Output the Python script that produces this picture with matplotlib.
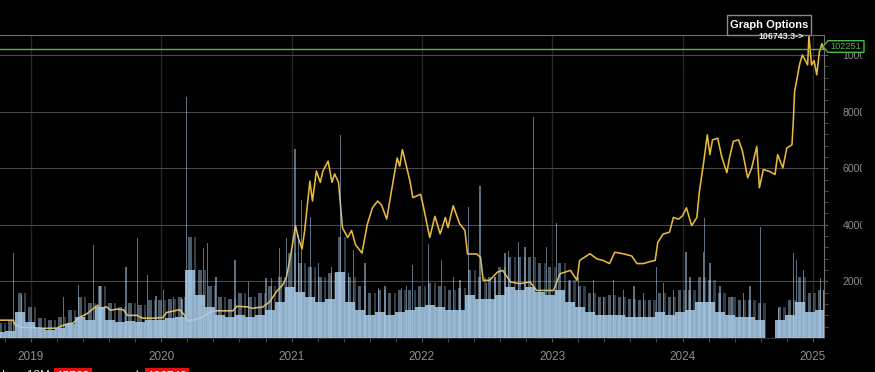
import matplotlib.pyplot as plt
import numpy as np
from matplotlib.patches import Polygon, Rectangle

# closing price (decimal years, thousands of USD)
price_t = [2018.76, 2018.86, 2018.88, 2018.92, 2018.99, 2019.11, 2019.20, 2019.22, 2019.28, 2019.32,
           2019.38, 2019.43, 2019.51, 2019.53, 2019.58, 2019.61, 2019.66, 2019.71, 2019.74, 2019.81,
           2019.86, 2019.94, 2020.01, 2020.04, 2020.09, 2020.14, 2020.18, 2020.20, 2020.24, 2020.30,
           2020.35, 2020.40, 2020.55, 2020.58, 2020.66, 2020.70, 2020.78, 2020.83, 2020.89, 2020.93,
           2020.96, 2020.99, 2021.03, 2021.05, 2021.08, 2021.10, 2021.14, 2021.16, 2021.19, 2021.22,
           2021.24, 2021.28, 2021.31, 2021.33, 2021.36, 2021.39, 2021.43, 2021.46, 2021.49, 2021.54,
           2021.58, 2021.62, 2021.66, 2021.69, 2021.73, 2021.77, 2021.81, 2021.83, 2021.85, 2021.89,
           2021.91, 2021.93, 2021.99, 2022.01, 2022.06, 2022.10, 2022.14, 2022.18, 2022.20, 2022.24,
           2022.29, 2022.33, 2022.35, 2022.42, 2022.45, 2022.47, 2022.52, 2022.58, 2022.62, 2022.68,
           2022.75, 2022.83, 2022.88, 2023.01, 2023.06, 2023.14, 2023.19, 2023.21, 2023.29, 2023.34,
           2023.39, 2023.44, 2023.48, 2023.54, 2023.61, 2023.65, 2023.70, 2023.75, 2023.79, 2023.81,
           2023.85, 2023.90, 2023.93, 2023.97, 2024.00, 2024.03, 2024.07, 2024.11, 2024.13, 2024.16,
           2024.19, 2024.21, 2024.23, 2024.27, 2024.30, 2024.34, 2024.36, 2024.39, 2024.43, 2024.46,
           2024.50, 2024.53, 2024.57, 2024.59, 2024.62, 2024.66, 2024.71, 2024.73, 2024.77, 2024.80,
           2024.84, 2024.85, 2024.86, 2024.90, 2024.92, 2024.96, 2024.97, 2024.99, 2025.01, 2025.03,
           2025.05, 2025.07, 2025.08]
price_k = [6.3, 6.3, 4.6, 3.8, 3.7, 3.4, 3.5, 4.0, 5.0, 5.2,
           7.5, 8.6, 11.6, 10.4, 11.0, 9.8, 10.2, 10.0, 8.0, 8.0,
           7.0, 7.0, 7.2, 9.0, 9.5, 10.0, 8.0, 6.0, 6.3, 7.0,
           8.4, 9.6, 9.6, 11.2, 11.0, 10.5, 11.0, 12.7, 16.8, 18.6,
           21.5, 28.5, 39.7, 35.5, 31.5, 37.9, 55.4, 48.4, 59.0, 55.0,
           59.0, 62.5, 55.0, 58.0, 55.0, 39.0, 35.5, 38.0, 33.0, 30.0,
           40.0, 46.0, 48.4, 47.0, 42.0, 53.0, 63.6, 60.7, 66.6, 59.0,
           55.0, 49.6, 50.8, 46.7, 35.5, 43.0, 36.8, 42.6, 39.0, 46.7,
           40.3, 38.0, 29.7, 29.7, 28.5, 20.4, 20.4, 23.3, 23.9, 19.8,
           19.2, 19.8, 16.8, 16.8, 22.7, 23.9, 20.4, 27.4, 29.8, 28.0,
           27.4, 26.3, 30.3, 29.8, 29.0, 26.3, 26.3, 27.0, 27.4, 33.8,
           36.7, 37.4, 42.6, 42.0, 43.2, 46.0, 39.7, 42.6, 52.0, 61.3,
           71.8, 64.8, 70.0, 70.6, 64.2, 58.4, 63.6, 69.5, 70.0, 66.0,
           56.6, 60.0, 67.7, 53.1, 59.5, 59.0, 57.8, 64.8, 60.1, 67.1,
           68.3, 76.5, 87.0, 97.0, 100.0, 96.5, 106.7, 96.5, 98.0, 93.0,
           101.0, 104.0, 102.3]

# volume (arbitrary units, 100 = top of chart), 4-weekly buckets
vol_start = 2018.762
vol_step = 0.0767
vol_base = [2.0, 2.4, 8.6, 5.3, 3.2, 2.8, 3.2, 4.5, 6.9, 6.1,
            10.2, 6.1, 5.3, 5.7, 5.3, 6.1, 6.1, 6.5, 6.9, 22.5,
            14.3, 10.2, 7.7, 6.9, 7.7, 6.9, 7.7, 9.4, 11.9, 16.8,
            15.2, 13.5, 11.9, 12.8, 21.8, 11.9, 9.4, 7.7, 8.6, 7.7,
            8.6, 9.4, 10.2, 11.0, 10.2, 9.4, 9.4, 14.3, 12.8, 12.8,
            14.3, 16.8, 16.0, 16.8, 15.2, 14.3, 16.0, 11.9, 10.2, 8.6,
            7.7, 7.7, 7.7, 6.9, 6.9, 6.9, 8.6, 7.7, 8.6, 9.4,
            11.9, 11.9, 8.6, 7.7, 6.9, 6.9, 6.1, 0.0, 6.1, 7.7,
            11.9, 8.6, 9.4]
vol_upper = [4.8, 6.0, 14.7, 10.3, 6.5, 6.0, 7.0, 9.2, 13.6, 11.4,
             17.0, 11.4, 10.3, 11.4, 10.9, 12.5, 12.5, 13.0, 13.6, 33.4,
             22.4, 17.0, 13.6, 13.0, 14.7, 13.6, 14.7, 17.0, 20.2, 28.0,
             24.6, 23.5, 20.2, 21.3, 33.4, 20.2, 17.0, 14.7, 15.8, 14.7,
             15.8, 15.8, 17.0, 18.0, 17.0, 15.8, 16.4, 22.4, 20.2, 20.2,
             23.5, 26.8, 26.8, 26.8, 24.6, 23.5, 24.6, 19.0, 17.0, 14.7,
             13.6, 14.2, 13.6, 13.0, 12.5, 12.5, 14.7, 13.6, 15.8, 15.8,
             20.2, 19.0, 14.7, 13.6, 12.5, 12.5, 11.4, 0.0, 10.3, 12.5,
             20.2, 14.7, 15.8]

# single-day volume spikes
spike_t = [2018.864, 2018.929, 2019.248, 2019.363, 2019.478, 2019.530, 2019.729, 2019.816, 2019.892, 2019.959,
           2020.015, 2020.092, 2020.159, 2020.195, 2020.322, 2020.353, 2020.420, 2020.566, 2020.668, 2020.804,
           2020.847, 2020.906, 2020.962, 2021.026, 2021.051, 2021.078, 2021.147, 2021.205, 2021.308, 2021.377,
           2021.435, 2021.474, 2021.563, 2021.665, 2021.717, 2021.845, 2021.883, 2021.928, 2022.049, 2022.152,
           2022.241, 2022.292, 2022.356, 2022.446, 2022.497, 2022.561, 2022.638, 2022.663, 2022.740, 2022.791,
           2022.855, 2022.958, 2023.034, 2023.131, 2023.200, 2023.315, 2023.392, 2023.469, 2023.546, 2023.628,
           2023.699, 2023.802, 2023.853, 2023.929, 2024.027, 2024.058, 2024.160, 2024.167, 2024.211, 2024.288,
           2024.378, 2024.467, 2024.518, 2024.600, 2024.735, 2024.850, 2024.876, 2024.927, 2025.061, 2025.081]
spike_v = [28.0, 14.3, 13.6, 17.5, 30.7, 17.0, 23.5, 33.0, 20.8, 14.0,
           15.9, 13.6, 13.0, 79.6, 29.6, 31.2, 20.0, 25.7, 18.6, 19.7,
           19.7, 29.6, 33.0, 62.5, 34.0, 45.5, 40.0, 24.6, 23.5, 67.0,
           21.3, 29.0, 24.6, 16.5, 17.0, 16.4, 17.0, 24.0, 31.0, 25.7,
           20.2, 19.0, 43.3, 50.0, 18.0, 20.2, 28.0, 28.6, 31.8, 30.0,
           73.0, 30.0, 37.8, 18.6, 20.2, 19.0, 13.6, 19.0, 15.8, 17.0,
           14.7, 23.5, 18.0, 15.8, 28.5, 20.2, 28.5, 39.5, 24.6, 17.0,
           13.6, 14.7, 17.0, 36.7, 9.8, 28.0, 25.7, 22.4, 19.7, 15.8]

year_ticks = [2019, 2020, 2021, 2022, 2023, 2024, 2025]
price_ticks = [20000, 40000, 60000, 80000, 100000]
last_price = 102251
max_price = 106743.3
footer_low = "15760"
footer_high = "106743"

W, H = 875, 372


def px(x, y):
    # pixel position (from top-left) -> figure fraction
    return (x / W, 1 - y / H)


plt.rcParams['font.family'] = ['Liberation Sans', 'DejaVu Sans']

fig = plt.figure(figsize=(W / 100, H / 100), dpi=100, facecolor='black')
ax = fig.add_axes([0, 34 / H, 824.3 / W, 303 / H])
ax.set_facecolor('black')
# twin first: twinx() resets the host's ticks to the left side
ax2 = ax.twinx()

ax.plot(price_t, np.array(price_k) * 1000, color='#e9b93c', lw=1.15, zorder=2)
ax.axhline(last_price, color='#4cb84a', lw=1, zorder=4)

ax.set_xlim(2018.762, 2025.088)
ax.set_ylim(0, 107070)
ax.yaxis.tick_right()
ax.set_yticks(price_ticks)
ax.set_yticks(np.arange(4000, 107000, 4000), minor=True)
ax.set_xticks(year_ticks)
ax.set_xticks(np.arange(2018.8, 2025.1, 0.2), minor=True)
ax.grid(axis='y', which='major', color='#474747', lw=0.8)
ax.grid(axis='x', which='major', color='#262626', lw=1.0)
ax.tick_params(axis='both', which='both', colors='#5a5a5a', labelcolor='#8e8e8e', length=3)
ax.tick_params(axis='x', labelsize=8.5, pad=6)
ax.tick_params(axis='y', which='both', left=False, labelleft=False, right=True,
               labelright=True, labelsize=7.6, pad=10)
ax.spines['left'].set_visible(False)
ax.spines['top'].set_color('#707070')
ax.spines['right'].set_color('#707070')
ax.spines['bottom'].set_color('#303030')

# volume on a hidden twin axis, drawn over the price line
ax2.set_ylim(0, 100)
ax2.axis('off')
vol_t = vol_start + vol_step * np.arange(len(vol_base))
blue = '#a9cbe9'
ax2.bar(vol_t, vol_upper, width=0.026, color=blue, alpha=0.45, lw=0)
ax2.bar(vol_t + vol_step / 2, vol_upper, width=0.018, color=blue, alpha=0.3, lw=0)
ax2.bar(vol_t, vol_base, width=vol_step, color=blue, alpha=0.85, lw=0)
ax2.bar(spike_t, spike_v, width=0.011, color=blue, alpha=0.55, lw=0)

# clip region right of the axis labels
fig.patches.append(Rectangle(px(862, 372), 13 / W, 1, transform=fig.transFigure,
                             facecolor='black', edgecolor='none', zorder=1))

# last price tag
tag = [px(823, 46.5), px(828, 40.7), px(864, 40.7), px(864, 52.3), px(828, 52.3)]
fig.patches.append(Polygon(tag, closed=True, transform=fig.transFigure,
                           facecolor='black', edgecolor='#4cb84a', lw=1, zorder=2))
fig.text(*px(846, 46.8), f"{last_price}", color='#4cb84a', fontsize=6.6,
         ha='center', va='center', zorder=3)

# max marker
fig.text(*px(804, 36.2), f"{max_price:.1f}->", color='#e6e6e6', fontsize=6.4,
         fontweight='bold', ha='right', va='center', zorder=3)

# options button
fig.patches.append(Rectangle(px(727, 35), 84 / W, 20 / H, transform=fig.transFigure,
                             facecolor='black', edgecolor='#8a8a8a', lw=1, zorder=2))
fig.text(*px(769, 25), "Graph Options", color='white', fontsize=8, fontweight='bold',
         ha='center', va='center', zorder=3)

# footer row, mostly below the bottom edge
fs = 8.5
fig.text(*px(2, 370), "Low 12M", color='#dddddd', fontsize=fs, ha='left', va='top', zorder=3)
fig.text(*px(73, 370.5), footer_low, color='white', fontsize=fs, ha='center', va='top', zorder=3,
         bbox=dict(boxstyle='square,pad=0.2', facecolor='#e01010', edgecolor='none'))
fig.text(*px(138, 370), "d", color='#dddddd', fontsize=fs, ha='right', va='top', zorder=3)
fig.text(*px(167, 370.5), footer_high, color='white', fontsize=fs, ha='center', va='top', zorder=3,
         bbox=dict(boxstyle='square,pad=0.2', facecolor='#e01010', edgecolor='none'))

fig.savefig('out.png', dpi=100, facecolor='black')
